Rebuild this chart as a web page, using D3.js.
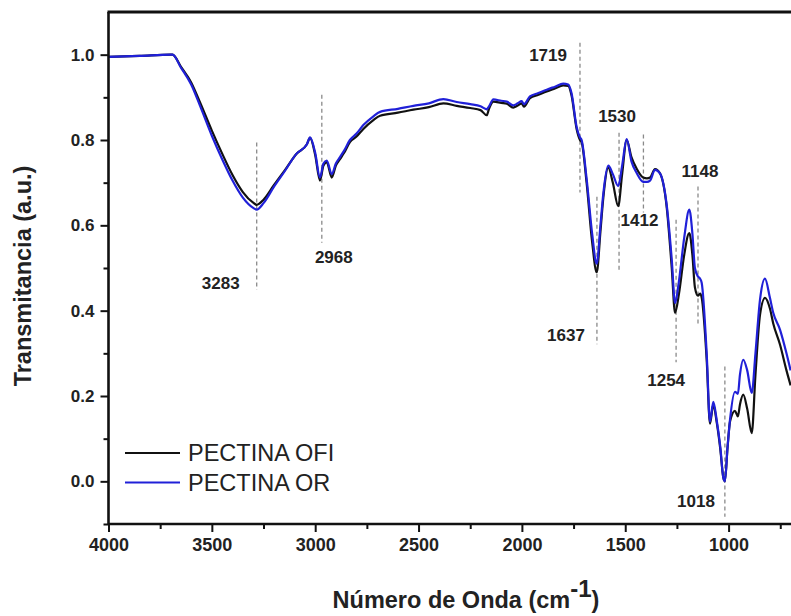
<!DOCTYPE html>
<html>
<head>
<meta charset="utf-8">
<script src="https://cdn.jsdelivr.net/npm/d3@7"></script>
<style>
  body { margin: 0; background: #fff; }
  svg { font-family: "Liberation Sans", Arial, sans-serif; }
</style>
</head>
<body>
<svg id="chart" width="791" height="616"></svg>
<script>
// wavenumbers (cm-1)
const waves = [4000, 3850, 3700, 3690, 3650, 3600, 3557, 3500, 3450, 3400, 3350, 3300, 3283, 3250, 3200, 3150, 3090, 3040, 3025, 3000,
  2977, 2960, 2944, 2920, 2900, 2880, 2860, 2832, 2800, 2767, 2720, 2686, 2600, 2525, 2450, 2380, 2315, 2250, 2200, 2170,
  2160, 2138, 2100, 2073, 2042, 2020, 2001, 1990, 1961, 1920, 1880, 1840, 1800, 1776, 1760, 1735, 1719, 1711, 1687, 1660,
  1638, 1620, 1606, 1582, 1560, 1534, 1515, 1493, 1470, 1444, 1413, 1395, 1380, 1356, 1332, 1300, 1275, 1259, 1240, 1215,
  1190, 1175, 1163, 1148, 1138, 1130, 1106, 1090, 1074, 1058, 1040, 1026, 1018, 1005, 993, 969, 955, 945, 929, 910,
  888, 870, 848, 824, 800, 784, 751, 720, 700];

const pectinaOFI = [0.995, 0.997, 1.0, 1.0, 0.972, 0.935, 0.888, 0.822, 0.768, 0.718, 0.678, 0.653, 0.648, 0.66, 0.694, 0.727, 0.768, 0.79, 0.805, 0.765,
  0.705, 0.74, 0.748, 0.712, 0.74, 0.755, 0.77, 0.795, 0.808, 0.826, 0.846, 0.857, 0.864, 0.871, 0.877, 0.886, 0.88, 0.875, 0.87, 0.858,
  0.872, 0.89, 0.887, 0.885, 0.876, 0.881, 0.886, 0.878, 0.898, 0.906, 0.914, 0.921, 0.928, 0.927, 0.905, 0.825, 0.80, 0.795, 0.70, 0.56,
  0.49, 0.585, 0.665, 0.735, 0.70, 0.645, 0.72, 0.80, 0.76, 0.732, 0.712, 0.71, 0.712, 0.732, 0.722, 0.645, 0.50, 0.395, 0.44, 0.53,
  0.582, 0.53, 0.455, 0.435, 0.44, 0.43, 0.285, 0.135, 0.18, 0.14, 0.075, 0.01, 0.0, 0.08, 0.14, 0.165, 0.152, 0.18, 0.203, 0.17,
  0.113, 0.25, 0.39, 0.43, 0.405, 0.37, 0.32, 0.26, 0.225];

const pectinaOR = [0.995, 0.997, 1.0, 1.0, 0.97, 0.93, 0.88, 0.81, 0.755, 0.705, 0.665, 0.641, 0.637, 0.652, 0.69, 0.725, 0.768, 0.79, 0.806, 0.77,
  0.712, 0.745, 0.752, 0.72, 0.745, 0.76, 0.775, 0.80, 0.815, 0.835, 0.855, 0.866, 0.873, 0.88, 0.886, 0.896, 0.889, 0.884, 0.879, 0.872,
  0.878, 0.895, 0.892, 0.89, 0.881, 0.886, 0.891, 0.884, 0.902, 0.91, 0.918, 0.925, 0.932, 0.93, 0.91, 0.83, 0.806, 0.80, 0.71, 0.58,
  0.51, 0.60, 0.675, 0.74, 0.72, 0.692, 0.74, 0.802, 0.75, 0.722, 0.702, 0.702, 0.705, 0.73, 0.722, 0.65, 0.52, 0.418, 0.47, 0.57,
  0.637, 0.58, 0.50, 0.48, 0.475, 0.465, 0.30, 0.14, 0.186, 0.145, 0.08, 0.01, 0.0, 0.08, 0.145, 0.21, 0.205, 0.25, 0.285, 0.26,
  0.207, 0.30, 0.426, 0.475, 0.43, 0.395, 0.355, 0.30, 0.26];

const seriesNames = ["PECTINA OFI", "PECTINA OR"];
const seriesColors = ["#111111", "#2020d8"];

// marked bands
const peaks = [3283, 2968, 1719, 1637, 1530, 1412, 1254, 1148, 1018];

const xTicks = [4000, 3500, 3000, 2500, 2000, 1500, 1000];
const yTicks = [0.0, 0.2, 0.4, 0.6, 0.8, 1.0];

// placement of each peak marker: dashed line from y0 to y1 (data units), label at ly, dx offset & anchor
const peakLayout = {
  3283: {y0: 0.794, y1: 0.449, ly: 0.465, dx: -17, anchor: "end"},
  2968: {y0: 0.906, y1: 0.559, ly: 0.527, dx: 12, anchor: "middle"},
  1719: {y0: 1.028, y1: 0.677, ly: 1.0, dx: -13, anchor: "end"},
  1637: {y0: 0.667, y1: 0.321, ly: 0.344, dx: -12, anchor: "end"},
  1530: {y0: 0.817, y1: 0.491, ly: 0.857, dx: -2, anchor: "middle"},
  1412: {y0: 0.813, y1: 0.630, ly: 0.613, dx: -4, anchor: "middle"},
  1254: {y0: 0.613, y1: 0.279, ly: 0.238, dx: 9, anchor: "end"},
  1148: {y0: 0.691, y1: 0.363, ly: 0.728, dx: 2, anchor: "middle"},
  1018: {y0: 0.269, y1: -0.083, ly: -0.045, dx: -10, anchor: "end"}
};

const svg = d3.select("#chart");
const mLeft = 108.5, mRight = 790.6, mTop = 12, mBottom = 524;

const x = d3.scaleLinear().domain([4000, 700]).range([mLeft, mRight]);
const y = d3.scaleLinear().domain([-0.1, 1.1]).range([mBottom, mTop]);

svg.append("defs").append("clipPath").attr("id", "clip")
  .append("rect").attr("x", mLeft).attr("y", mTop).attr("width", mRight - mLeft + 2).attr("height", mBottom - mTop);

// peak markers
const marks = svg.append("g");
peaks.forEach(p => {
  const L = peakLayout[p];
  marks.append("line")
    .attr("x1", x(p)).attr("x2", x(p))
    .attr("y1", y(L.y0)).attr("y2", y(L.y1))
    .attr("stroke", "#8a8a8a").attr("stroke-width", 1.3)
    .attr("stroke-dasharray", "4,3");
  marks.append("text")
    .attr("x", x(p) + L.dx).attr("y", y(L.ly))
    .attr("dy", "0.36em")
    .attr("text-anchor", L.anchor)
    .attr("font-size", 17).attr("font-weight", "bold").attr("fill", "#222")
    .text(p);
});

// spectra
const series = [pectinaOFI, pectinaOR];
const line = d3.line()
  .x((d, i) => x(waves[i]))
  .y(d => y(d))
  .curve(d3.curveMonotoneX);

svg.append("g").attr("clip-path", "url(#clip)")
  .selectAll("path")
  .data(series)
  .join("path")
  .attr("d", line)
  .attr("fill", "none")
  .attr("stroke", (d, i) => seriesColors[i])
  .attr("stroke-width", 2.2)
  .attr("stroke-linejoin", "round");

// axes
const xMinor = d3.range(3750, 700, -500);
const yMinor = [-0.1, 0.1, 0.3, 0.5, 0.7, 0.9];

const xAxis = svg.append("g").attr("transform", `translate(0,${mBottom})`)
  .call(d3.axisBottom(x).tickValues(xTicks).tickSize(8).tickPadding(6).tickFormat(d3.format("d")));
svg.append("g").attr("transform", `translate(0,${mBottom})`)
  .call(d3.axisBottom(x).tickValues(xMinor).tickSize(5).tickFormat(""))
  .select(".domain").remove();

const yAxis = svg.append("g").attr("transform", `translate(${mLeft},0)`)
  .call(d3.axisLeft(y).tickValues(yTicks).tickSize(8).tickPadding(6).tickFormat(d3.format(".1f")));
svg.append("g").attr("transform", `translate(${mLeft},0)`)
  .call(d3.axisLeft(y).tickValues(yMinor).tickSize(5).tickFormat(""))
  .select(".domain").remove();

svg.selectAll(".tick line").attr("stroke", "#111").attr("stroke-width", 2);
xAxis.select(".domain").attr("stroke", "#111").attr("stroke-width", 2.6).attr("d", `M${mLeft},0H${mRight + 2}`);
yAxis.select(".domain").attr("stroke", "#111").attr("stroke-width", 2.6).attr("d", `M0,${mBottom}V${mTop}`);
xAxis.selectAll("text").attr("font-size", 18);
yAxis.selectAll("text").attr("font-size", 17);
[xAxis, yAxis].forEach(a => a.selectAll("text")
  .attr("font-weight", "bold").attr("fill", "#222")
  .attr("font-family", "Liberation Sans, Arial, sans-serif"));

// top frame
svg.append("line").attr("x1", mLeft - 1).attr("x2", 791).attr("y1", mTop).attr("y2", mTop)
  .attr("stroke", "#111").attr("stroke-width", 3);

// axis titles
svg.append("text")
  .attr("transform", `translate(31,${(mTop + mBottom) / 2 + 8}) rotate(-90)`)
  .attr("text-anchor", "middle")
  .attr("font-size", 23.5).attr("font-weight", "bold").attr("fill", "#222")
  .text("Transmitancia (a.u.)");

const xt = svg.append("text")
  .attr("x", 466).attr("y", 608)
  .attr("text-anchor", "middle")
  .attr("font-size", 23.5).attr("font-weight", "bold").attr("fill", "#222");
xt.append("tspan").text("Número de Onda (cm");
xt.append("tspan").attr("dy", -11).attr("font-size", 24).text("-1");
xt.append("tspan").attr("dy", 11).text(")");

// legend
const legend = svg.append("g");
seriesNames.forEach((name, i) => {
  const ly = 453 + i * 29.5;
  legend.append("line")
    .attr("x1", 125).attr("x2", 180).attr("y1", ly).attr("y2", ly)
    .attr("stroke", seriesColors[i]).attr("stroke-width", 2);
  legend.append("text")
    .attr("x", 188).attr("y", ly).attr("dy", "0.36em")
    .attr("font-size", 23.5).attr("fill", "#222")
    .text(name);
});
</script>
</body>
</html>
